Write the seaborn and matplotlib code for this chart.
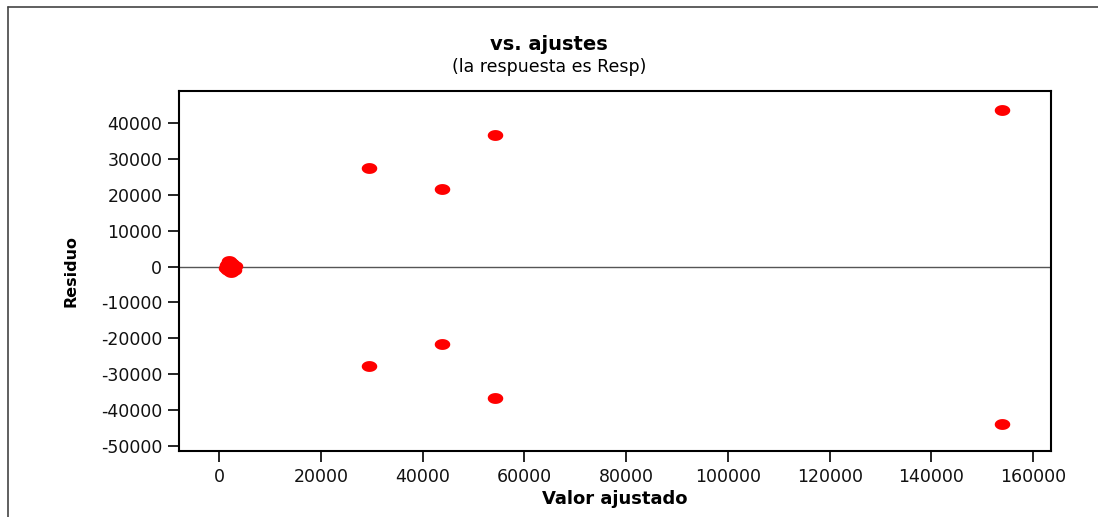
import numpy as np
import pandas as pd
import matplotlib
matplotlib.use("Agg")
import matplotlib.pyplot as plt
from matplotlib.path import Path
from matplotlib.markers import MarkerStyle
from matplotlib.lines import Line2D
import seaborn as sns

# Fitted values and residuals
ajustado = [1400, 1700, 2000, 2300, 2600, 2900, 3100, 1800, 2400, 1600,
            29500, 29500, 43800, 43800, 54200, 54200, 153800, 153800]
residuo = [-300, 800, 1400, -1500, 600, -900, 200, -1100, 1100, 300,
           27500, -27700, 21600, -21600, 36600, -36700, 43700, -43900]

xticks = [0, 20000, 40000, 60000, 80000, 100000, 120000, 140000, 160000]
yticks = [40000, 30000, 20000, 10000, 0, -10000, -20000, -30000, -40000, -50000]

df = pd.DataFrame({"Valor ajustado": ajustado, "Residuo": residuo})

sns.set_theme(style="white")
plt.rcParams["font.family"] = ["DejaVu Sans"]
plt.rcParams["text.color"] = "black"
plt.rcParams["axes.labelcolor"] = "black"

fig = plt.figure(figsize=(10.98, 5.17), dpi=100)
ax = fig.add_axes([179 / 1098, 1 - 451 / 517, (1051 - 179) / 1098, (451 - 91) / 517])

# elliptical marker, wider than tall
t = np.linspace(0, 2 * np.pi, 60)
verts = np.column_stack([np.cos(t), 0.7 * np.sin(t)])
elipse = MarkerStyle(Path(verts, closed=True))

ax.axhline(0, color="#555555", lw=1.0, zorder=1)
sns.scatterplot(data=df, x="Valor ajustado", y="Residuo", ax=ax,
                marker=elipse, s=125, color="#ff0000", linewidth=0, zorder=3)

ax.set_xlim(-7860, 163500)
ax.set_ylim(-51400, 48900)
ax.set_xticks(xticks)
ax.set_xticklabels([str(v) for v in xticks])
ax.set_yticks(yticks)
ax.set_yticklabels([str(v) for v in yticks])
ax.tick_params(axis="both", direction="out", length=8, width=1.2, color="black",
               labelsize=12.5, labelcolor="#111111", pad=4, bottom=True, left=True)
for sp in ax.spines.values():
    sp.set_color("black")
    sp.set_linewidth(1.5)

ax.set_xlabel("Valor ajustado", fontsize=13, fontweight="bold", labelpad=3)
ax.set_ylabel("Residuo", fontsize=11.5, fontweight="bold", labelpad=16)

fig.text(0.5, 1 - 44 / 517, "vs. ajustes", ha="center", va="center",
         fontsize=14, fontweight="bold")
fig.text(0.5, 1 - 67 / 517, "(la respuesta es Resp)", ha="center", va="center",
         fontsize=12.5)

# outer frame of the figure
fig.add_artist(Line2D([8 / 1098, 1.0], [1 - 7 / 517, 1 - 7 / 517],
                      transform=fig.transFigure, color="#444444", lw=1.2))
fig.add_artist(Line2D([8 / 1098, 8 / 1098], [0, 1 - 7 / 517],
                      transform=fig.transFigure, color="#444444", lw=1.2))

fig.savefig("out.png", dpi=100)
